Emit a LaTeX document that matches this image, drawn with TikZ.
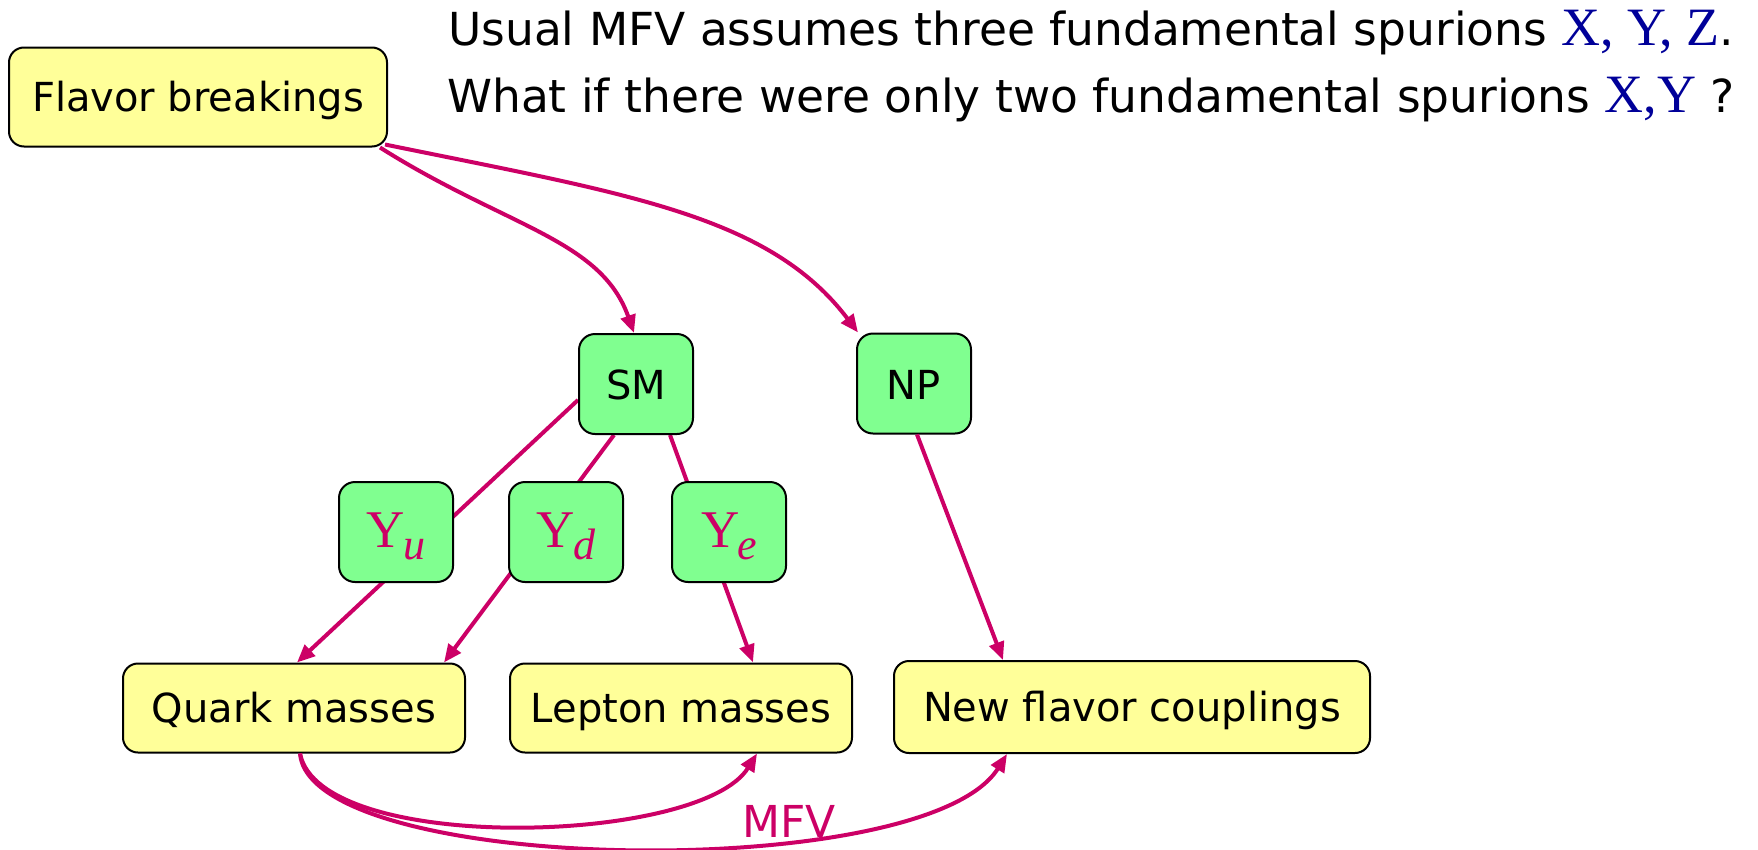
\documentclass[tikz,border=0pt]{standalone}
\usepackage{fontspec}
\setmainfont{DejaVu Sans}
\newfontfamily\tmsfont{Liberation Serif}
\usetikzlibrary{arrows.meta,calc,backgrounds}
\definecolor{mag}{HTML}{CC0066}
\definecolor{spblue}{HTML}{000099}
\definecolor{yboxc}{HTML}{FFFF99}
\definecolor{gboxc}{HTML}{80FF90}
\newcommand\ylab[1]{\textcolor{mag}{\tmsfont\fontsize{53}{53}\selectfont Y\kern-2pt\smash{\raisebox{-12pt}{\fontsize{44}{44}\selectfont\itshape #1}}}}
\begin{document}
\begin{tikzpicture}[x=1pt,y=-1pt,
  ybox/.style={draw=black, line width=2pt, fill=yboxc, rounded corners=15pt, inner sep=0pt, text height=29pt, text depth=0pt, font=\fontsize{40}{48}\selectfont},
  gbx/.style={draw=black, line width=2pt, fill=gboxc, rounded corners=16pt, inner sep=0pt, minimum width=114pt, minimum height=100pt, text height=31pt, text depth=0pt, font=\fontsize{40}{48}\selectfont},
  ylabbox/.style={gbx, text height=30pt, text depth=0pt},
  conn/.style={draw=mag, line width=4pt},
  arr/.style={conn, -{Triangle[length=18pt,width=15pt]}},
  title/.style={anchor=base west, inner sep=0pt, font=\fontsize{45.5}{54}\selectfont}
]
\useasboundingbox (0,0) rectangle (1758,849);

% titles
\node[title] (t1) at (448,45) {Usual MFV assumes three fundamental spurions \textcolor{spblue}{\tmsfont\fontsize{54}{54}\selectfont X, Y, Z}.};
\node[title] (t2) at (447,112) {What if there were only two fundamental spurions \textcolor{spblue}{\tmsfont\fontsize{54}{54}\selectfont X,Y} ?};

% nodes
\node[ybox, minimum width=378pt, minimum height=99pt] (fb) at (198,97) {Flavor breakings};
\node[gbx] (sm) at (636,384) {SM};
\node[gbx] (np) at (914,383.5) {NP};
\node[ylabbox] (yu) at (396,532) {\ylab{u}};
\node[ylabbox] (yd) at (566,532) {\ylab{d}};
\node[ylabbox] (ye) at (729,532) {\ylab{e}};
\node[ybox, minimum width=342pt, minimum height=89pt] (qm) at (294,708) {Quark masses};
\node[ybox, minimum width=342pt, minimum height=89pt] (lm) at (681,708) {Lepton masses};
\node[ybox, minimum width=476pt, minimum height=92pt] (nfc) at (1132,707) {New flavor couplings};
\node[inner sep=0pt, font=\fontsize{44}{44}\selectfont, text=mag] (mfv) at (789,821) {MFV};

% connectors
\begin{scope}[on background layer]
\draw[arr] ($(sm.west)+(0,16)$) -- ($(qm.north)+(3,0)$);
\draw[arr] ($(sm.south)+(-22,0)$) -- ($(qm.north east)+(-22,0)$);
\draw[arr] ($(sm.south)+(34,0)$) -- ($(lm.north)+(72,0)$);
\end{scope}
\draw[arr] ($(np.south)+(3,0)$) -- ($(nfc.north)+(-129,0)$);
\draw[arr] ($(fb.south east)+(-8,0)$) .. controls (506,227) and (601,239) .. ($(sm.north)+(-2,0)$);
\draw[arr] ($(fb.south east)+(-3,-3)$) .. controls (627,194) and (769,215) .. ($(np.north west)+(2,0)$);
\draw[arr] ($(qm.south)+(6,0)$) .. controls (320,855) and (700,845) .. ($(lm.south)+(76,0)$);
\draw[arr] ($(qm.south)+(6,0)$) .. controls (310,875) and (925,885) .. ($(nfc.south)+(-125,0)$);
\end{tikzpicture}
\end{document}
